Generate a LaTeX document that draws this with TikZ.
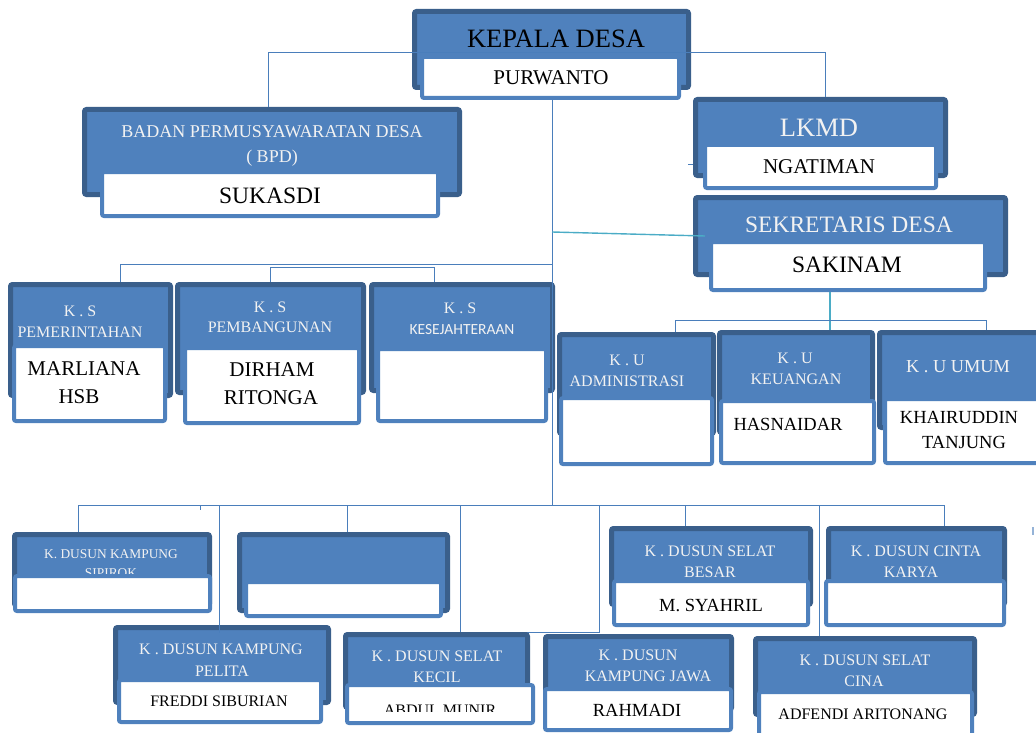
\documentclass[tikz,border=0pt]{standalone}
\usepackage{fontspec}
\setmainfont{Liberation Serif}
\newfontfamily\carlfont{Carlito}
\definecolor{bblue}{HTML}{4F81BD}
\definecolor{bdark}{HTML}{3A5F8B}
\definecolor{lnblue}{HTML}{4A7EBB}
\definecolor{lnteal}{HTML}{4BACC6}
\definecolor{hdtext}{HTML}{F2F2F2}
\newcommand\fsz[1]{\fontsize{#1pt}{#1pt}\selectfont}
\tikzset{
  outerbox/.style={draw=bdark, fill=bblue, line width=5pt, outer sep=2.5pt, inner sep=0pt, rounded corners=2pt},
  namebox/.style={draw=bblue, fill=white, line width=4pt, outer sep=2pt, inner sep=0pt, rounded corners=2pt},
  plainbox/.style={draw=lnblue, fill=white, line width=1pt, outer sep=0.5pt, inner sep=0pt},
  conn/.style={draw=lnblue, line width=1pt},
  tconn/.style={draw=lnteal, line width=1.4pt},
  hd/.style={text=hdtext, inner sep=0pt, anchor=base},
  nm/.style={text=black, inner sep=0pt, anchor=base},
}
\newcommand\obox[5]{\node[outerbox, anchor=north west, minimum width={(#4-#2-5)*1pt}, minimum height={(#5-#3-5)*1pt}] (#1) at (#2,#3) {};}
\newcommand\nbox[5]{\node[namebox, anchor=north west, minimum width={(#4-#2-4)*1pt}, minimum height={(#5-#3-4)*1pt}] (#1) at (#2,#3) {};}
\begin{document}
\begin{tikzpicture}[x=1pt,y=-1pt]
\useasboundingbox (0,0) rectangle (1036,733);
% KEPALA DESA
\obox{kd}{412}{9}{691}{90}
\node[nm,font=\fsz{26.5}] (kdt) at (556,48) {KEPALA DESA};
\coordinate (kbL) at (268,53); \coordinate (kbR) at (825,53);
\nbox{kdn}{420}{55}{681}{100}
\node[nm,font=\fsz{21}] (kdnt) at (551,85) {PURWANTO};
% BPD
\obox{bpd}{82}{107}{462}{197}
\node[hd,font=\fsz{18}] (bpdt1) at (272,138) {BADAN PERMUSYAWARATAN DESA};
\node[hd,font=\fsz{18}] (bpdt2) at (272,162) {( BPD)};
\nbox{bpdn}{100}{170}{440}{218}
\node[nm,font=\fsz{23.5}] (bpdnt) at (270,203) {SUKASDI};
% LKMD
\obox{lk}{693}{97}{948}{178}
\node[hd,font=\fsz{26.5}] (lkt) at (819,137) {LKMD};
\nbox{lkn}{703}{143}{938}{190}
\node[nm,font=\fsz{21}] (lknt) at (819,173) {NGATIMAN};
% SEKRETARIS
\obox{sek}{693}{195}{1008}{277}
\node[hd,font=\fsz{23.5}] (sekt) at (849,232) {SEKRETARIS DESA};
\nbox{sekn}{709}{240}{987}{292}
\node[nm,font=\fsz{23.5}] (seknt) at (847,272) {SAKINAM};
% K.S
\obox{ks1}{8}{282}{173}{398}
\node[hd,font=\fsz{16}] (ks1a) at (80,316) {K . S};
\node[hd,font=\fsz{16}] (ks1b) at (80,337) {PEMERINTAHAN};
\nbox{ks1n}{12}{344}{167}{423}
\node[nm,font=\fsz{21}] (ks1c) at (84,375) {MARLIANA};
\node[nm,font=\fsz{21}] (ks1d) at (79,403) {HSB};
\obox{ks2}{175}{282}{366}{395}
\node[hd,font=\fsz{16}] (ks2a) at (270,312) {K . S};
\node[hd,font=\fsz{16}] (ks2b) at (270,332) {PEMBANGUNAN};
\nbox{ks2n}{183}{346}{361}{425}
\node[nm,font=\fsz{21}] (ks2c) at (272,376) {DIRHAM};
\node[nm,font=\fsz{21}] (ks2d) at (271,404) {RITONGA};
\obox{ks3}{369}{282}{555}{393}
\node[hd,font=\fsz{16}] (ks3a) at (460,313) {K . S};
\node[hd,font=\carlfont\fsz{15.5}] (ks3b) at (462,334) {KESEJAHTERAAN};
\nbox{ks3n}{376}{347}{548}{423}
% K.U
\obox{ku1}{557}{332}{716}{436}
\node[hd,font=\fsz{16}] (ku1a) at (627,365) {K . U};
\node[hd,font=\fsz{16}] (ku1b) at (627,386) {ADMINISTRASI};
\nbox{ku1n}{559}{396}{714}{466}
\obox{ku2}{717}{330}{875}{435}
\node[hd,font=\fsz{16}] (ku2a) at (795,363) {K . U};
\node[hd,font=\fsz{16}] (ku2b) at (796,384) {KEUANGAN};
\nbox{ku2n}{719}{399}{876}{465}
\node[nm,font=\fsz{18.5}] (ku2c) at (788,430) {HASNAIDAR};
\obox{ku3}{877}{330}{1050}{430}
\node[hd,font=\fsz{18.3}] (ku3a) at (958,372) {K . U UMUM};
\nbox{ku3n}{883}{397}{1050}{465}
\node[nm,font=\fsz{18.5}] (ku3c) at (959,423) {KHAIRUDDIN};
\node[nm,font=\fsz{18.5}] (ku3d) at (964,448) {TANJUNG};
% Dusun row 1
\obox{d1}{12}{532}{212}{608}
\node[hd,font=\fsz{13.4}] (d1a) at (111,558) {K. DUSUN KAMPUNG};
\node[hd,font=\fsz{13.4}] (d1b) at (111,577) {SIPIROK};
\nbox{d1n}{13}{574}{212}{613}
\obox{d2}{237}{532}{450}{613}
\nbox{d2n}{244}{580}{443}{618}
\node[plainbox, anchor=north west, minimum width=139pt, minimum height=127pt] (pl) at (460,505) {};
\obox{d3}{609}{526}{813}{607}
\node[hd,font=\fsz{16}] (d3a) at (710,556) {K . DUSUN SELAT};
\node[hd,font=\fsz{16}] (d3b) at (710,577) {BESAR};
\nbox{d3n}{612}{579}{810}{627}
\node[nm,font=\fsz{18.5}] (d3c) at (711,611) {M. SYAHRIL};
\obox{d4}{826}{526}{1007}{607}
\node[hd,font=\fsz{16}] (d4a) at (916,556) {K . DUSUN CINTA};
\node[hd,font=\fsz{16}] (d4b) at (911,577) {KARYA};
\nbox{d4n}{824}{579}{1006}{627}
% Dusun row 2
\obox{d5}{113}{625}{331}{705}
\node[hd,font=\fsz{16}] (d5a) at (221,654) {K . DUSUN KAMPUNG};
\node[hd,font=\fsz{16}] (d5b) at (222,676) {PELITA};
\nbox{d5n}{117}{678}{323}{724}
\node[nm,font=\fsz{16}] (d5c) at (219,706) {FREDDI SIBURIAN};
\obox{d6}{343}{632}{530}{710}
\node[hd,font=\fsz{16}] (d6a) at (437,661) {K . DUSUN SELAT};
\node[hd,font=\fsz{16}] (d6b) at (437,682) {KECIL};
\nbox{d6n}{345}{683}{535}{725}
\begin{scope}
\clip (347,685) rectangle (533,711);
\node[nm,font=\fsz{16}] (d6c) at (440,715) {ABDUL MUNIR};
\end{scope}
\obox{d7}{543}{634}{734}{712}
\node[hd,font=\fsz{16}] (d7a) at (638,660) {K . DUSUN};
\node[hd,font=\fsz{16}] (d7b) at (648,681) {KAMPUNG JAWA};
\nbox{d7n}{543}{687}{733}{732}
\node[nm,font=\fsz{18.5}] (d7c) at (637,716) {RAHMADI};
\obox{d8}{753}{636}{977}{717}
\node[hd,font=\fsz{16}] (d8a) at (865,665) {K . DUSUN SELAT};
\node[hd,font=\fsz{16}] (d8b) at (864,686) {CINA};
\nbox{d8n}{757}{690}{974}{745}
\node[nm,font=\fsz{16}] (d8c) at (863,719) {ADFENDI ARITONANG};
% connectors
\coordinate (mv) at (552,0);
\draw[conn] (bpd.north -| kbL) -- (kbL) -- (kbR) -- (lk.north -| kbR);
\draw[conn] (kdn.south -| mv) -- (pl.north -| mv);
\coordinate (tj) at (552,232);
\draw[tconn] (tj) -- ([xshift=12pt]sek.west);
\coordinate (lt) at (688,164);
\draw[conn] (lt) -- (lt -| lk.west);
\coordinate (ksa) at (120,264);
\draw[conn] (ksa -| mv) -- (ksa) -- (ks1.north -| ksa);
\coordinate (ksb) at (270,267); \coordinate (ksc) at (434,267);
\draw[conn] (ks2.north -| ksb) -- (ksb) -- (ksc) -- (ks3.north -| ksc);
\coordinate (kub) at (830,320);
\draw[tconn] (sekn.south -| kub) -- (kub) -- (ku2.north -| kub);
\coordinate (kuL) at (675,320); \coordinate (kuR) at (986,320);
\draw[conn] (ku1.north -| kuL) -- (kuL) -- (kuR) -- (ku3.north -| kuR);
\coordinate (dbL) at (78,505); \coordinate (dbR) at (944,505);
\draw[conn] (d1.north -| dbL) -- (dbL) -- (dbR) -- (d4.north -| dbR);
\coordinate (tk1) at (200,505);
\draw[conn] (tk1) -- ++(0,5);
\coordinate (v219) at (219,505);
\draw[conn] (v219) -- ([yshift=-8pt]d5.north -| v219);
\coordinate (v347) at (347,505);
\draw[conn] (v347) -- (d2.north -| v347);
\coordinate (v685) at (685,505);
\draw[conn] (v685) -- (d3.north -| v685);
\coordinate (v819) at (819,505);
\draw[conn] (v819) -- (d8.north -| v819);
\coordinate (rt) at (1033,527);
\draw[conn, draw=bblue!60, line width=1.6pt] (rt) -- ++(0,8);
\end{tikzpicture}
\end{document}
